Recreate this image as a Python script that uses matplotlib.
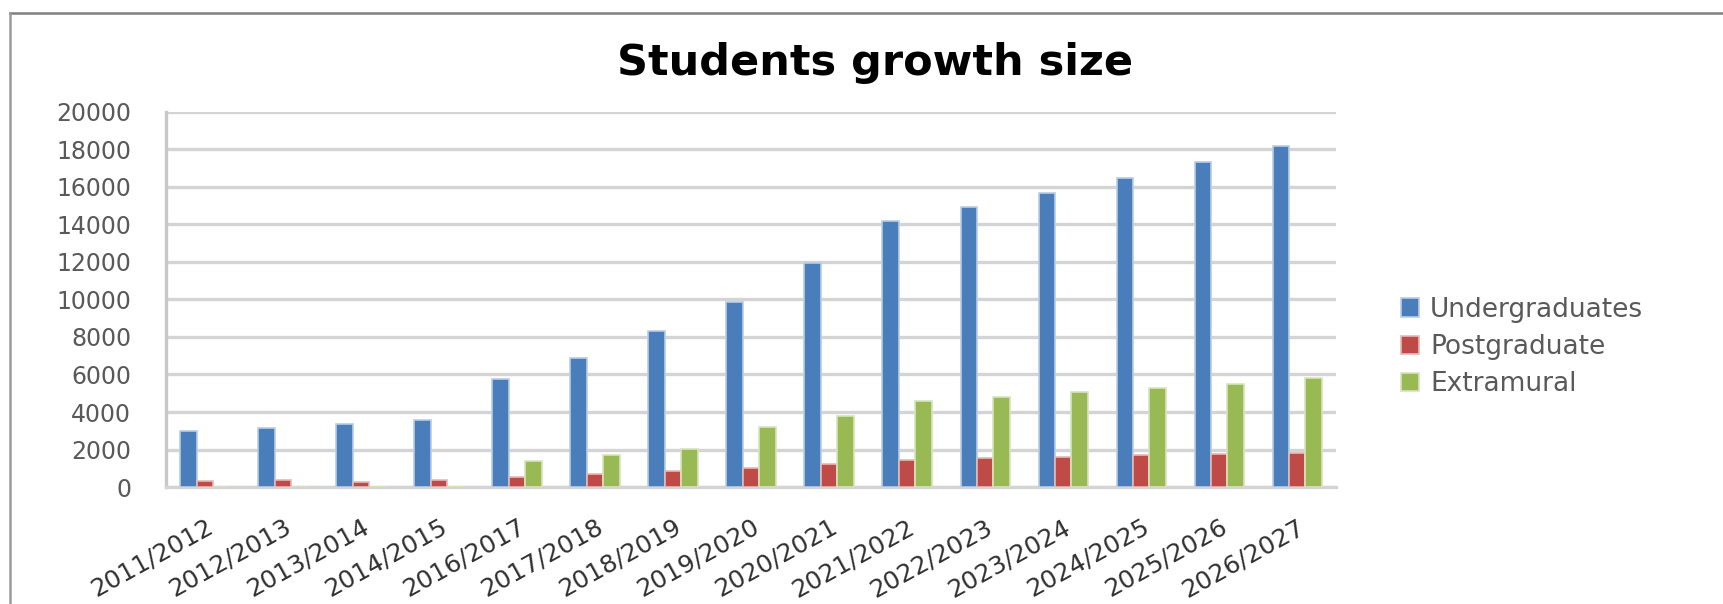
import numpy as np
import matplotlib
matplotlib.use("Agg")
import matplotlib.pyplot as plt
from matplotlib.lines import Line2D

# data
years = ["2011/2012", "2012/2013", "2013/2014", "2014/2015", "2016/2017",
         "2017/2018", "2018/2019", "2019/2020", "2020/2021", "2021/2022",
         "2022/2023", "2023/2024", "2024/2025", "2025/2026", "2026/2027"]
undergrad = [3000, 3150, 3350, 3600, 5750, 6900, 8300, 9850, 11950, 14200,
             14950, 15700, 16500, 17350, 18200]
postgrad = [300, 350, 250, 350, 550, 700, 850, 1000, 1220, 1440,
            1550, 1620, 1700, 1770, 1830]
extramural = [0, 0, 0, 0, 1400, 1700, 2050, 3200, 3800, 4600,
              4800, 5050, 5300, 5500, 5800]
y_ticks = list(range(0, 20001, 2000))

fig = plt.figure(figsize=(17.24, 6.04), dpi=100)
ax = fig.add_axes([0.0963, 0.1937, 0.6787, 0.6209])

x = np.arange(len(years))
w = 0.21
ax.bar(x - w, undergrad, w, color="#4A7EBB", edgecolor="#B9CDE5", linewidth=1.2,
       label="Undergraduates", zorder=3)
ax.bar(x, postgrad, w, color="#BE4B48", edgecolor="#E6B9B8", linewidth=1.2,
       label="Postgraduate", zorder=3)
ax.bar(x + w, extramural, w, color="#98B954", edgecolor="#D7E4BD", linewidth=1.2,
       label="Extramural", zorder=3)

ax.set_xlim(-0.5, len(years) - 0.5)
ax.set_ylim(0, 20000)
ax.set_yticks(y_ticks)
ax.set_yticklabels([str(v) for v in y_ticks], fontsize=17, color="#595959")
ax.set_xticks(x)
ax.set_xticklabels(years, fontsize=18, color="#303030", rotation=29,
                   ha="right", va="top", rotation_mode="anchor")
ax.tick_params(axis="both", length=0)
ax.tick_params(axis="y", pad=25)
ax.tick_params(axis="x", pad=20)

ax.grid(axis="y", color="#D4D4D4", linewidth=2.4, zorder=0)
for s in ["top", "right"]:
    ax.spines[s].set_visible(False)
ax.spines["left"].set_color("#C8C8C8")
ax.spines["left"].set_linewidth(2.4)
ax.spines["bottom"].set_color("#D4D4D4")
ax.spines["bottom"].set_linewidth(2.4)

fig.text(0.5075, 0.8957, "Students growth size", fontsize=31, fontweight="bold",
         ha="center", va="center", color="black")

leg = fig.legend(loc="center left", bbox_to_anchor=(0.805, 0.4255), frameon=False,
                 fontsize=19, handlelength=0.7, handleheight=0.7,
                 handletextpad=0.4, labelspacing=0.42, borderpad=0)
for t in leg.get_texts():
    t.set_color("#595959")

# outer chart border (top and left only visible)
fig.add_artist(Line2D([10 / 1724, 1.0], [1 - 13 / 604] * 2, color="#7F7F7F", linewidth=1.8))
fig.add_artist(Line2D([10 / 1724] * 2, [0.0, 1 - 13 / 604], color="#9A9A9A", linewidth=1.8))

fig.savefig("out.png", dpi=100)
